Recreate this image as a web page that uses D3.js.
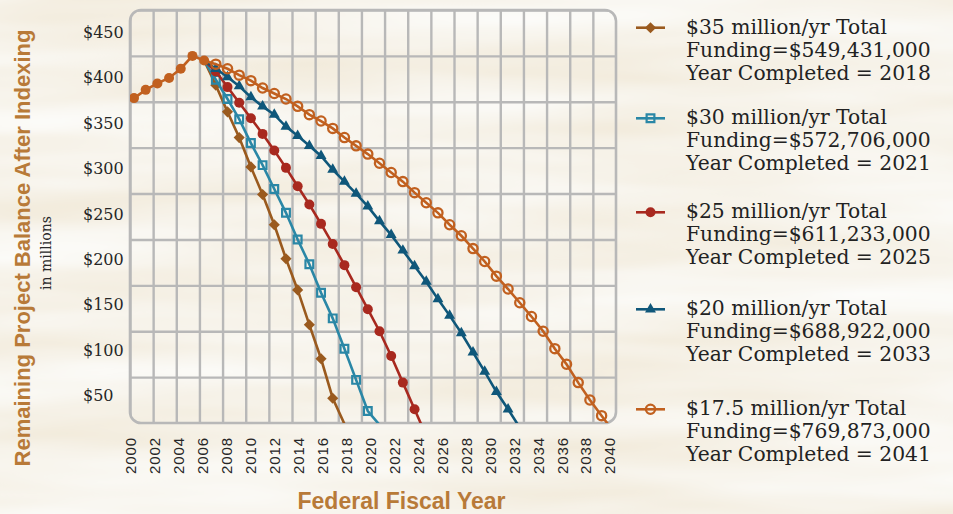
<!DOCTYPE html>
<html>
<head>
<meta charset="utf-8">
<script src="https://cdn.jsdelivr.net/npm/d3@7"></script>
<style>
  html, body { margin: 0; padding: 0; background: #ede3cf; }
  svg { display: block; }
</style>
</head>
<body>
<svg id="chart" width="953" height="514"></svg>
<script>
// balances in $ millions
var years = d3.range(2000, 2042);
var x_labels = d3.range(2000, 2041, 2);
var y_labels = [50, 100, 150, 200, 250, 300, 350, 400, 450];

// 2000-2006, before the funding options split
var hist_start = 2000;
var hist_values = [354, 363, 370, 376, 386, 400, 395];

var series_names = ['$35 million/yr', '$30 million/yr', '$25 million/yr', '$20 million/yr', '$17.5 million/yr'];
var series_funding = ['$549,431,000', '$572,706,000', '$611,233,000', '$688,922,000', '$769,873,000'];
var series_completed = ['2018', '2021', '2025', '2033', '2041'];
var series_start = 2006;
var bal_35 = [395, 368, 339, 311, 279, 249, 216, 179, 145, 107, 70, 27, -1];
var bal_30 = [395, 374, 353, 331, 305, 281, 255, 229, 200, 173, 142, 114, 81, 47, 13, -2];
var bal_25 = [395, 383, 366, 349, 332, 315, 297, 278, 258, 238, 217, 195, 172, 148, 124, 100, 73, 44, 15, -14];
var bal_20 = [395, 386, 377, 367, 355, 345, 336, 323, 313, 302, 291, 276, 263, 250, 236, 220, 205, 188, 171, 154,
              135, 117, 98, 77, 56, 34, 15, -5];
var bal_17 = [395, 391, 386, 379, 373, 365, 359, 353, 345, 336, 329, 321, 311, 302, 293, 283, 273, 263, 251, 240,
              229, 216, 204, 190, 176, 160, 146, 131, 116, 100, 81, 64, 44, 25, 8, -9];

var series_values = [bal_35, bal_30, bal_25, bal_20, bal_17];
var series_colors = ['#9a5a1e', '#2a87a6', '#a8291f', '#0f577a', '#c1601f'];
var series_marks = ['diamond', 'square', 'dot', 'triangle', 'ring'];

var plot = {left: 130, right: 616, top: 10, bottom: 423};
var legend_y = [27.7, 118.3, 212.3, 309.3, 409.3];

draw_chart();

function draw_chart(){
    var svg = d3.select('#chart');
    draw_background(svg);

    // grid boundaries, data positions and tick labels do not line up exactly in the original
    var x_grid = d3.scaleLinear().domain([2000, 2042]).range([plot.left, plot.right]);
    var x_scale = d3.scaleLinear().domain([2000, 2040]).range([134, 601.6]);
    var x_label = d3.scaleLinear().domain([2000, 2040]).range([130.5, 609.5]);
    var y_scale = d3.scaleLinear().domain([0, 450]).range([plot.bottom, plot.top]);
    var y_label = d3.scaleLinear().domain([50, 450]).range([395.7, 32.3]);

    draw_grid(svg, x_grid, y_scale);
    draw_axes(svg, x_label, y_label);
    draw_series(svg, x_scale, y_scale);
    draw_legend(svg);
    draw_titles(svg);
}

function draw_background(svg){
    var defs = svg.append('defs');
    var f = defs.append('filter').attr('id', 'paper')
        .attr('x', 0).attr('y', 0).attr('width', '100%').attr('height', '100%');
    f.append('feTurbulence')
        .attr('type', 'fractalNoise')
        .attr('baseFrequency', '0.0025 0.022')
        .attr('numOctaves', 3)
        .attr('seed', 11);
    f.append('feColorMatrix')
        .attr('type', 'matrix')
        .attr('values', '-0.12 0 0 0 0.99  -0.2 0 0 0 1.0  -0.34 0 0 0 1.0  0 0 0 0 1');

    defs.append('clipPath').attr('id', 'plot-round')
        .append('rect')
        .attr('x', plot.left).attr('y', plot.top)
        .attr('width', plot.right - plot.left).attr('height', plot.bottom - plot.top)
        .attr('rx', 11);
    defs.append('clipPath').attr('id', 'plot-clip')
        .append('rect')
        .attr('x', plot.left).attr('y', plot.top)
        .attr('width', plot.right - plot.left).attr('height', plot.bottom - plot.top);

    svg.append('rect').attr('width', 953).attr('height', 514).attr('fill', '#ede3cf');
    svg.append('rect').attr('width', 953).attr('height', 514).attr('filter', 'url(#paper)');
}

function draw_grid(svg, x_grid, y_scale){
    var height = plot.bottom - plot.top;
    var width = plot.right - plot.left;
    var grid = svg.append('g').attr('class', 'grid').attr('clip-path', 'url(#plot-round)');

    grid.append('g')
        .attr('transform', 'translate(0,' + plot.bottom + ')')
        .call(d3.axisBottom(x_grid).tickValues(d3.range(2000, 2043, 2)).tickSize(-height).tickFormat(''));
    grid.append('g')
        .attr('transform', 'translate(' + plot.left + ',0)')
        .call(d3.axisLeft(y_scale).tickValues(d3.range(0, 451, 50)).tickSize(-width).tickFormat(''));

    grid.selectAll('.domain').remove();
    grid.selectAll('line').attr('stroke', '#b8b8b8').attr('stroke-width', 2.4);

    svg.append('rect')
        .attr('x', plot.left).attr('y', plot.top)
        .attr('width', width).attr('height', height)
        .attr('rx', 11)
        .attr('fill', 'none')
        .attr('stroke', '#b8b8b8')
        .attr('stroke-width', 2.6);
}

function draw_axes(svg, x_label, y_label){
    var xa = svg.append('g')
        .attr('transform', 'translate(0,437)')
        .call(d3.axisBottom(x_label).tickValues(x_labels).tickSize(0).tickFormat(d3.format('d')));
    xa.select('.domain').remove();
    xa.selectAll('text')
        .attr('transform', 'rotate(-90)')
        .attr('x', 0).attr('y', 0)
        .attr('dy', '0.36em')
        .attr('text-anchor', 'end')
        .attr('fill', '#262626')
        .style('font-family', '"Liberation Sans", Arial, sans-serif')
        .style('font-size', '15px')
        .style('letter-spacing', '0.9px');

    var ya = svg.append('g')
        .attr('transform', 'translate(83,0)')
        .call(d3.axisRight(y_label).tickValues(y_labels).tickSize(0).tickPadding(0)
              .tickFormat(function(t){return '$' + t}));
    ya.select('.domain').remove();
    ya.selectAll('text')
        .attr('fill', '#262626')
        .style('font-family', '"DejaVu Serif", Georgia, serif')
        .style('font-size', '16px');
}

function marker(sel, kind, color){
    if(kind == 'diamond'){
        sel.append('path')
            .attr('d', d3.symbol().type(d3.symbolSquare).size(62)())
            .attr('transform', 'rotate(45)')
            .attr('fill', color);
    } else if(kind == 'square'){
        sel.append('path')
            .attr('d', d3.symbol().type(d3.symbolSquare).size(60)())
            .attr('fill', 'none').attr('stroke', color).attr('stroke-width', 2.2);
    } else if(kind == 'dot'){
        sel.append('circle').attr('r', 5).attr('fill', color);
    } else if(kind == 'triangle'){
        sel.append('path')
            .attr('d', d3.symbol().type(d3.symbolTriangle).size(52)())
            .attr('fill', color);
    } else if(kind == 'ring'){
        sel.append('circle').attr('r', 4.6)
            .attr('fill', 'none').attr('stroke', color).attr('stroke-width', 2.3);
    }
}

function draw_series(svg, x_scale, y_scale){
    var area = svg.append('g').attr('class', 'plot-area').attr('clip-path', 'url(#plot-clip)');
    var line = d3.line()
        .x(function(d){return x_scale(d.year)})
        .y(function(d){return y_scale(d.value)});

    series_values.forEach(function(values, i){
        var pts = values.map(function(v, k){return {year: series_start + k, value: v}});
        var g = area.append('g').attr('class', 'series');
        g.append('path')
            .datum(pts)
            .attr('d', line)
            .attr('fill', 'none')
            .attr('stroke', series_colors[i])
            .attr('stroke-width', 2.6);
        // no marker on the shared 2006 point or below zero
        g.selectAll('.mark')
            .data(pts.filter(function(d, k){return k > 0 && d.value > 0}))
            .enter()
            .append('g')
            .attr('class', 'mark')
            .attr('transform', function(d){return 'translate(' + x_scale(d.year) + ',' + y_scale(d.value) + ')'})
            .each(function(){marker(d3.select(this), series_marks[i], series_colors[i])});
    });

    var hist = hist_values.map(function(v, k){return {year: hist_start + k, value: v}});
    var h = area.append('g').attr('class', 'history');
    h.append('path')
        .datum(hist)
        .attr('d', line)
        .attr('fill', 'none')
        .attr('stroke', '#c1601f')
        .attr('stroke-width', 2.6);
    h.selectAll('circle')
        .data(hist)
        .enter()
        .append('circle')
        .attr('cx', function(d){return x_scale(d.year)})
        .attr('cy', function(d){return y_scale(d.value)})
        .attr('r', 5)
        .attr('fill', '#c1601f');
}

function draw_legend(svg){
    var legend = svg.append('g').attr('class', 'legend');
    series_names.forEach(function(name, i){
        var g = legend.append('g').attr('transform', 'translate(0,' + legend_y[i] + ')');
        g.append('line')
            .attr('x1', 636).attr('x2', 665)
            .attr('stroke', series_colors[i])
            .attr('stroke-width', 2.6);
        var m = g.append('g').attr('transform', 'translate(650.5,0)');
        marker(m, series_marks[i], series_colors[i]);
        var lines = [name + ' Total', 'Funding=' + series_funding[i], 'Year Completed = ' + series_completed[i]];
        g.selectAll('text')
            .data(lines)
            .enter()
            .append('text')
            .attr('x', 686)
            .attr('y', function(d, k){return 6 + k * 23})
            .attr('fill', '#222')
            .style('font-family', '"DejaVu Serif", Georgia, serif')
            .style('font-size', '20.3px')
            .text(function(d){return d});
    });
}

function draw_titles(svg){
    svg.append('text')
        .attr('transform', 'translate(22,248) rotate(-90)')
        .attr('text-anchor', 'middle')
        .attr('dy', '0.35em')
        .attr('fill', '#b87a38')
        .style('font-family', '"Liberation Sans", Arial, sans-serif')
        .style('font-weight', 'bold')
        .style('font-size', '22px')
        .text('Remaining Project Balance After Indexing');

    svg.append('text')
        .attr('transform', 'translate(46,253) rotate(-90)')
        .attr('text-anchor', 'middle')
        .attr('dy', '0.35em')
        .attr('fill', '#2a2a2a')
        .style('font-family', '"DejaVu Serif", Georgia, serif')
        .style('font-size', '14px')
        .text('in millions');

    svg.append('text')
        .attr('x', 401.5).attr('y', 509)
        .attr('text-anchor', 'middle')
        .attr('fill', '#b87a38')
        .style('font-family', '"Liberation Sans", Arial, sans-serif')
        .style('font-weight', 'bold')
        .style('font-size', '23px')
        .text('Federal Fiscal Year');
}
</script>
</body>
</html>
